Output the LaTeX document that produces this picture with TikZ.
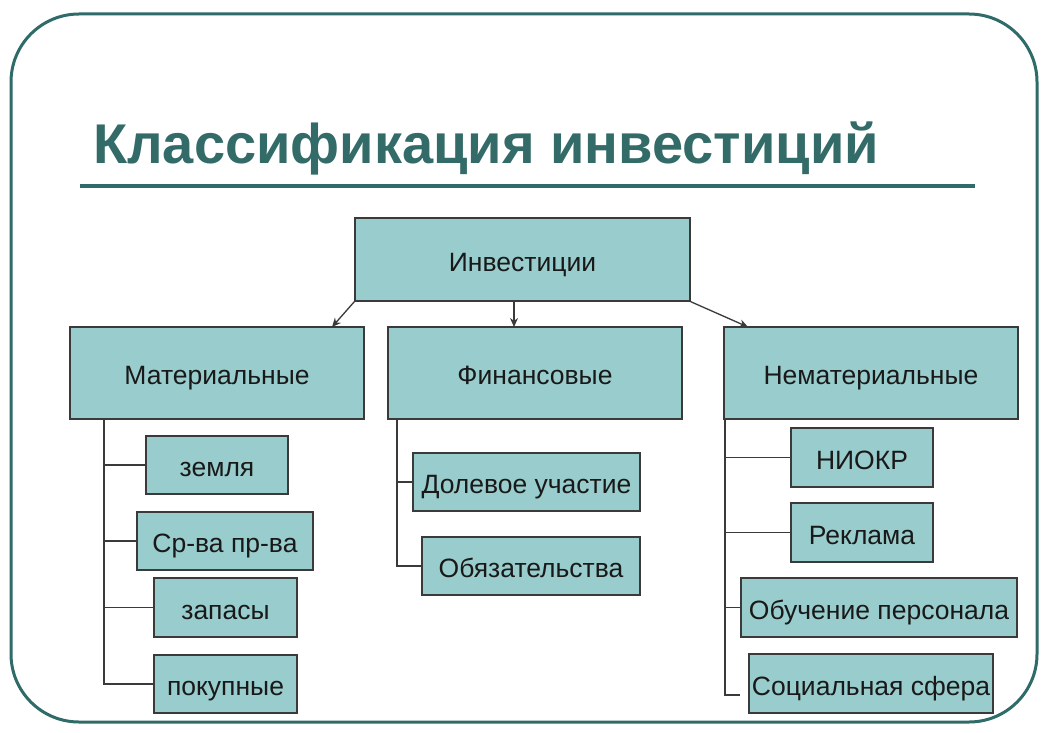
\documentclass[tikz,border=0pt]{standalone}
\usepackage{fontspec}
\setmainfont{Liberation Sans}
\usetikzlibrary{arrows.meta}
\definecolor{frame}{HTML}{2F6B68}
\definecolor{boxfill}{HTML}{99CCCC}
\definecolor{boxline}{HTML}{3A3A3A}
\definecolor{titlec}{HTML}{336B68}
\tikzset{
  x=1pt, y=-1pt,
  bx/.style={draw=boxline, line width=1.3pt, fill=boxfill, font=\fontsize{26.5}{30}\selectfont, text=black!90, text height=23pt, text depth=0pt},
  ln/.style={draw=boxline, line width=1.3pt},
  arr/.style={ln, -{Stealth[length=9pt,width=8pt]}},
}
\newcommand{\boxat}[6]{\node[bx, minimum width=#4-#2, minimum height=#5-#3, inner sep=0pt] (#1) at ({(#2+#4)/2},{(#3+#5)/2}) {#6};}
\begin{document}
\begin{tikzpicture}
\useasboundingbox (0,0) rectangle (1049,733);
\fill[white] (0,0) rectangle (1049,733);
\draw[frame, line width=3pt, rounded corners=68pt] (11,14) rectangle (1037,722);
\node[anchor=base west, inner sep=0pt, font=\fontsize{56}{60}\selectfont\bfseries, text=titlec] (title) at (93,164) {Классификация инвестиций};
\draw[frame, line width=4pt] (80,186) -- (975,186);
% top
\boxat{inv}{355}{218}{690}{301}{Инвестиции}
\boxat{mat}{70}{327}{364}{419}{Материальные}
\boxat{fin}{388}{327}{682}{419}{Финансовые}
\boxat{nem}{724}{327}{1018}{419}{Нематериальные}
\coordinate (ma) at (332,327);
\coordinate (fa) at (514,327);
\coordinate (na) at (748,327);
\draw[arr] (inv.south west) -- (ma);
\draw[arr] (inv.south -| fa) -- (fa);
\draw[arr] (inv.south east) -- (na);
% left children
\boxat{zem}{146}{436}{288}{494}{земля}
\boxat{srv}{137}{512}{313}{570}{Ср-ва пр-ва}
\boxat{zap}{154}{578}{297}{637}{запасы}
\boxat{pok}{154}{655}{297}{713}{покупные}
\coordinate (lb) at (104,419);
\draw[ln] (lb) |- (zem.west);
\draw[ln] (lb) |- (srv.west);
\draw[ln] (lb) |- (zap.west);
\draw[ln] (lb) |- (pok.west);
% middle children
\boxat{dol}{413}{453}{640}{511}{Долевое участие}
\boxat{obz}{422}{537}{640}{595}{Обязательства}
\coordinate (mb) at (397,419);
\draw[ln] (mb) |- (dol.west);
\draw[ln] (mb) |- (obz.west);
% right children
\boxat{nio}{791}{428}{933}{487}{НИОКР}
\boxat{rek}{791}{503}{933}{562}{Реклама}
\boxat{obu}{741}{578}{1017}{637}{Обучение персонала}
\boxat{soc}{749}{654}{993}{713}{Социальная сфера}
\coordinate (rb) at (725,419);
\coordinate (rend) at (740,695);
\draw[ln] (rb) |- (nio.west);
\draw[ln] (rb) |- (rek.west);
\draw[ln] (rb) |- (obu.west);
\draw[ln] (rb) |- (rend);
\end{tikzpicture}
\end{document}
